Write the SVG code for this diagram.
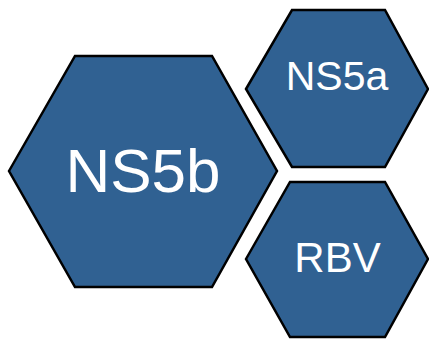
<svg xmlns="http://www.w3.org/2000/svg" width="429" height="341" viewBox="0 0 429 341">
<style>
.hex{fill:#306192;stroke:#000;stroke-width:2.5;stroke-linejoin:miter}
.lbl{fill:#fff;font-family:"Liberation Sans",Arial,sans-serif;text-anchor:middle}
</style>
<rect width="429" height="341" fill="#fff"/>
<g id="ns5b">
<polygon class="hex" points="9,171 75,56 212,56 277,171 212,287 75,287"/>
<text class="lbl" x="143" y="192" font-size="62">NS5b</text>
</g>
<g id="ns5a">
<polygon class="hex" points="246,89 292,10 385,10 428,89 385,167 292,167"/>
<text class="lbl" x="337" y="90" font-size="41">NS5a</text>
</g>
<g id="rbv">
<polygon class="hex" points="246,259 290,182 385,182 428,259 385,337 290,337"/>
<text class="lbl" x="337.5" y="272" font-size="42">RBV</text>
</g>
<g id="connectors"/>
</svg>
